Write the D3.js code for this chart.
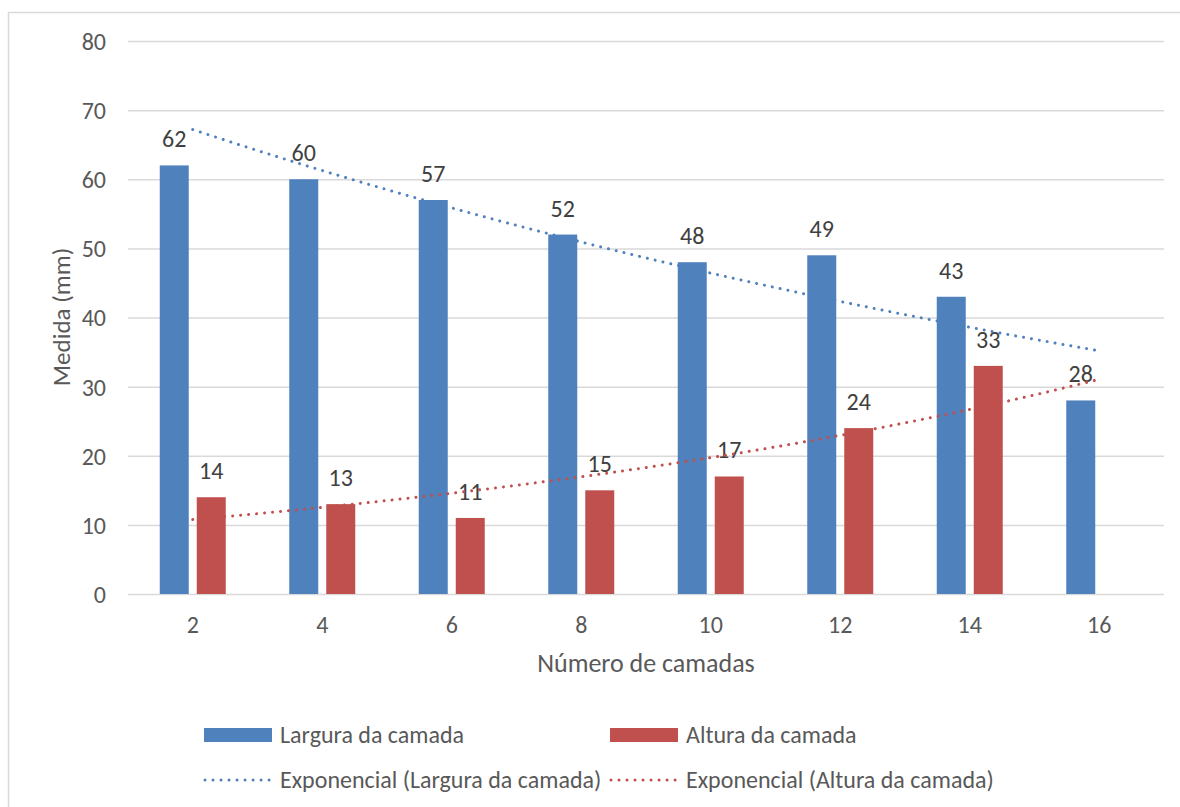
<!DOCTYPE html>
<html>
<head>
<meta charset="utf-8">
<script src="https://cdn.jsdelivr.net/npm/d3@7"></script>
<style>
  html, body { margin: 0; padding: 0; background: #fff; }
  svg text { font-family: Calibri, Carlito, Lato, sans-serif; }
</style>
</head>
<body>
<svg id="chart" width="1180" height="807"></svg>
<script>
const categories = ["2", "4", "6", "8", "10", "12", "14", "16"];
const larguraValues = [62, 60, 57, 52, 48, 49, 43, 28];
const alturaValues = [14, 13, 11, 15, 17, 24, 33, null];
const yTicks = [0, 10, 20, 30, 40, 50, 60, 70, 80];
const seriesNames = ["Largura da camada", "Altura da camada"];
const trendNames = ["Exponencial (Largura da camada)", "Exponencial (Altura da camada)"];
const colors = ["#4F81BD", "#C0504D"];

const svg = d3.select("#chart");
const W = 1180, H = 807;
const plot = { left: 128, right: 1164, top: 41, bottom: 594 };

svg.append("rect").attr("x", 0).attr("y", 0).attr("width", W).attr("height", H).attr("fill", "#fff");
// chart border (only left and top visible)
svg.append("path")
  .attr("d", `M8.5,${H} L8.5,12.5 L${W},12.5`)
  .attr("fill", "none").attr("stroke", "#D9D9D9").attr("stroke-width", 1.5);

const y = d3.scaleLinear().domain([0, 80]).range([plot.bottom, plot.top]);
const x0 = d3.scaleBand().domain(categories).range([plot.left, plot.right]).paddingInner(0).paddingOuter(0);
const bw = x0.bandwidth();
const groupW = 66;
const x1 = d3.scaleBand().domain([0, 1]).range([(bw - groupW) / 2, (bw + groupW) / 2]).paddingInner(0.2162).paddingOuter(0);

// gridlines + y labels
const yAxis = d3.axisLeft(y).tickValues(yTicks).tickSize(-(plot.right - plot.left)).tickFormat(d3.format("d")).tickPadding(22);
const gy = svg.append("g").attr("transform", `translate(${plot.left},0)`).call(yAxis);
gy.select(".domain").remove();
gy.selectAll(".tick line").attr("stroke", "#D9D9D9").attr("stroke-width", 1.5);
gy.selectAll(".tick text").attr("fill", "#595959").style("font-size", "24px").attr("dy", "0.35em");

// x labels
const xAxis = d3.axisBottom(x0).tickSize(0).tickPadding(0);
const gx = svg.append("g").attr("transform", `translate(0,${plot.bottom})`).call(xAxis);
gx.select(".domain").remove();
gx.selectAll(".tick text").attr("fill", "#595959").style("font-size", "24px").attr("dy", null).attr("y", 39);

// bars
const seriesData = [larguraValues, alturaValues];
seriesData.forEach((vals, s) => {
  const g = svg.append("g");
  const pts = categories.map((c, i) => ({ c, v: vals[i] })).filter(d => d.v != null);
  g.selectAll("rect").data(pts).join("rect")
    .attr("x", d => x0(d.c) + x1(s))
    .attr("y", d => y(d.v))
    .attr("width", x1.bandwidth())
    .attr("height", d => y(0) - y(d.v))
    .attr("fill", colors[s]);
  g.selectAll("text").data(pts).join("text")
    .attr("x", d => x0(d.c) + x1(s) + x1.bandwidth() / 2)
    .attr("y", d => y(d.v) - 18)
    .attr("text-anchor", "middle")
    .attr("fill", "#404040")
    .style("font-size", "24px")
    .text(d => d.v);
});

// exponential trendlines (least-squares fit of ln(y) on category index)
const xt = d3.scaleLinear().domain([1, categories.length])
  .range([x0(categories[0]) + bw / 2, x0(categories[categories.length - 1]) + bw / 2]);
function expFit(vals) {
  const pts = vals.map((v, i) => [i + 1, v]).filter(p => p[1] != null);
  const mx = d3.mean(pts, p => p[0]);
  const my = d3.mean(pts, p => Math.log(p[1]));
  const sxy = d3.sum(pts, p => (p[0] - mx) * (Math.log(p[1]) - my));
  const sxx = d3.sum(pts, p => (p[0] - mx) ** 2);
  const b = sxy / sxx, a = my - b * mx;
  return t => Math.exp(a + b * t);
}
seriesData.forEach((vals, s) => {
  const f = expFit(vals);
  const samples = d3.range(1, categories.length + 0.0001, 0.05);
  svg.append("path")
    .datum(samples)
    .attr("d", d3.line().x(t => xt(t)).y(t => y(f(t))))
    .attr("fill", "none")
    .attr("stroke", colors[s])
    .attr("stroke-width", 3)
    .attr("stroke-linecap", "round")
    .attr("stroke-dasharray", "0.01 8");
});

// axis titles
svg.append("text").attr("x", 646).attr("y", 672).attr("text-anchor", "middle")
  .attr("fill", "#595959").style("font-size", "26px").text("Número de camadas");
svg.append("text").attr("transform", "translate(70,317) rotate(-90)").attr("text-anchor", "middle")
  .attr("fill", "#595959").style("font-size", "25px").text("Medida (mm)");

// legend
const legendX = [204, 610];
seriesNames.forEach((n, s) => {
  svg.append("rect").attr("x", legendX[s]).attr("y", 728).attr("width", 68).attr("height", 14).attr("fill", colors[s]);
  svg.append("text").attr("x", legendX[s] + 76).attr("y", 743).attr("fill", "#595959").style("font-size", "24px").text(n);
});
trendNames.forEach((n, s) => {
  svg.append("line").attr("x1", legendX[s] + 1).attr("x2", legendX[s] + 68).attr("y1", 780).attr("y2", 780)
    .attr("stroke", colors[s]).attr("stroke-width", 3).attr("stroke-linecap", "round").attr("stroke-dasharray", "0.01 8");
  svg.append("text").attr("x", legendX[s] + 76).attr("y", 788).attr("fill", "#595959").style("font-size", "24px").text(n);
});
</script>
</body>
</html>
